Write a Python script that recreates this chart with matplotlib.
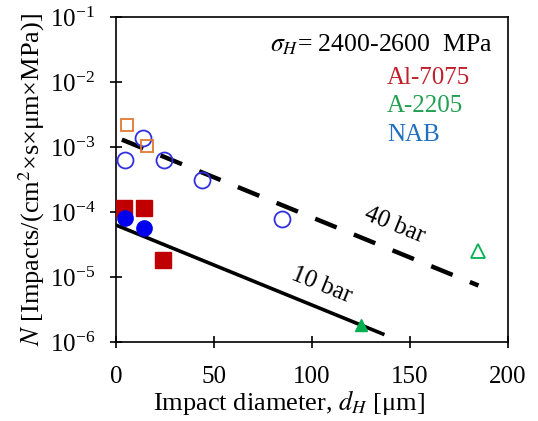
import numpy as np
import matplotlib
matplotlib.use('Agg')
import matplotlib.pyplot as plt

plt.rcParams['font.family'] = ['Liberation Serif', 'DejaVu Serif']
plt.rcParams['mathtext.fontset'] = 'stix'

# measured impacts per material, d_H [um] and N [impacts/(cm2 s um MPa)]
al_d = [4, 14.4, 24]
al_n = [1.17e-4, 1.17e-4, 1.8e-5]
nab10_d = [4.6, 14.4]
nab10_n = [8.2e-5, 5.7e-5]
nab40_d = [4.6, 13.9, 24.4, 44.1, 84.8]
nab40_n = [6.4e-4, 1.4e-3, 6.4e-4, 3.1e-4, 7.9e-5]
orange_d = [5.4, 16]
orange_n = [2.2e-3, 1.05e-3]
a2205_10_d = [125]
a2205_10_n = [1.8e-6]
a2205_40_d = [185]
a2205_40_n = [2.5e-5]

# trend lines (end points)
fit10_d = [0, 137]
fit10_n = [6.3e-5, 1.3e-6]
fit40_d = [3, 185]
fit40_n = [1.3e-3, 7.4e-6]

xticks = [0, 50, 100, 150, 200]

fig = plt.figure(figsize=(5.38, 4.21), dpi=100)
ax = fig.add_axes([0.2156, 0.1876, 0.7284, 0.772])

ax.plot(fit10_d, fit10_n, color='black', lw=2.6, solid_capstyle='butt', zorder=2)
ax.plot(fit40_d, fit40_n, color='black', lw=3.2, dashes=(5.2, 4.2),
        dash_capstyle='butt', zorder=2)

ax.plot(nab40_d, nab40_n, 'o', ms=11.5, mfc='none', mec='#3030e0', mew=1.3, zorder=3)
ax.plot(orange_d, orange_n, 's', ms=8.5, mfc='none', mec='#e07830', mew=1.3, zorder=3)
ax.plot(al_d, al_n, 's', ms=11, color='#c00000', zorder=3)
ax.plot(nab10_d, nab10_n, 'o', ms=11, color='#0000ee', zorder=4)
ax.plot(a2205_10_d, a2205_10_n, '^', ms=9, color='#00b050', zorder=3)
ax.plot(a2205_40_d, a2205_40_n, '^', ms=10, mfc='none', mec='#00b050', mew=1.3, zorder=3)

ax.set_yscale('log')
ax.set_xlim(0, 200)
ax.set_ylim(1e-6, 1e-1)
ax.set_xticks(xticks)
ax.set_yticks([1e-6, 1e-5, 1e-4, 1e-3, 1e-2, 1e-1])
ax.minorticks_off()
ax.tick_params(direction='inout', length=8, width=1.2, labelsize=18)
ax.tick_params(axis='x', pad=13)
ax.tick_params(axis='y', pad=11)
for s in ax.spines.values():
    s.set_linewidth(1.2)

ax.text(142, 6.2e-5, '40 bar', fontsize=18, rotation=-22,
        ha='center', va='center', rotation_mode='anchor')
ax.text(105, 7.6e-6, '10 bar', fontsize=18, rotation=-22,
        ha='center', va='center', rotation_mode='anchor')

ax.text(0.962, 0.914, r'$\sigma_H$= 2400-2600  MPa', transform=ax.transAxes,
        fontsize=18.5, ha='right', va='center')
ax.text(0.691, 0.812, 'Al-7075', transform=ax.transAxes, fontsize=18,
        color='#c0202a', ha='left', va='center')
ax.text(0.691, 0.726, 'A-2205', transform=ax.transAxes, fontsize=18,
        color='#20a050', ha='left', va='center')
ax.text(0.691, 0.637, 'NAB', transform=ax.transAxes, fontsize=18,
        color='#2070c0', ha='left', va='center')

ax.set_xlabel(r'Impact diameter, $d_H$ [μm]', fontsize=19, labelpad=0, x=0.44)
ax.set_ylabel(r'$N$ [Impacts/(cm$^2$×s×μm×MPa)]', fontsize=19, labelpad=2)

fig.savefig('out.png', dpi=100)
